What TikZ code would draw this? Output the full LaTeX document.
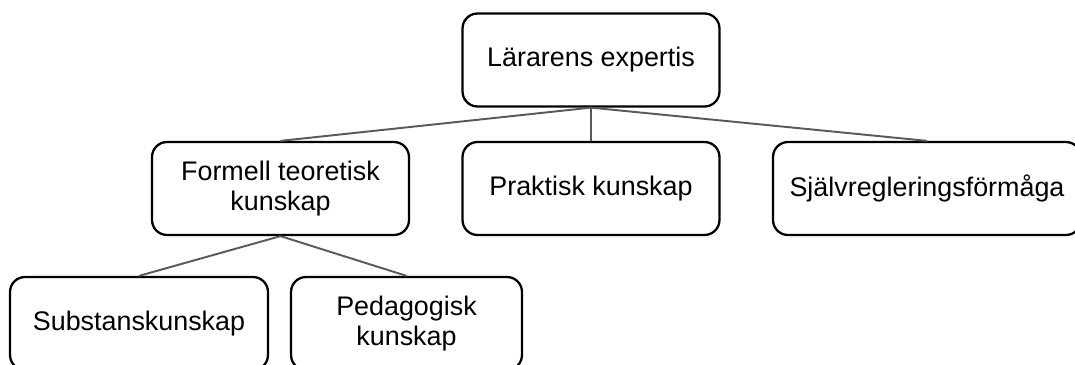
\documentclass[tikz,border=0pt]{standalone}
\usepackage{fontspec}
\setmainfont{Liberation Sans}
\tikzset{
  kbox/.style={draw=black,line width=1.3pt,rounded corners=0.3cm,fill=white,
    minimum width=5.14cm,minimum height=1.86cm,align=center,inner sep=2pt,
    font=\fontsize{15.3}{16.6}\selectfont},
  kline/.style={draw=black!65,line width=1.1pt}
}
\begin{document}
\begin{tikzpicture}[x=0.02cm,y=-0.02cm]
\useasboundingbox (0,0) rectangle (1075,365);
\node[kbox] (expertis) at (591,60) {Lärarens expertis};
\node[kbox] (formell) at (280.5,188.5) {Formell teoretisk\\kunskap};
\node[kbox] (praktisk) at (591,188.5) {Praktisk kunskap};
\node[kbox,minimum width=6.16cm] (sjalv) at (927,188.5) {Självregleringsförmåga};
\node[kbox,minimum width=5.16cm] (substans) at (139,323.5) {Substanskunskap};
\node[kbox,minimum width=4.62cm] (pedagogisk) at (406.5,323.5) {Pedagogisk\\kunskap};
\foreach \a/\b in {expertis/formell,expertis/praktisk,expertis/sjalv,formell/substans,formell/pedagogisk}
\draw[kline] (\a.south) -- (\b.north);
\end{tikzpicture}
\end{document}
